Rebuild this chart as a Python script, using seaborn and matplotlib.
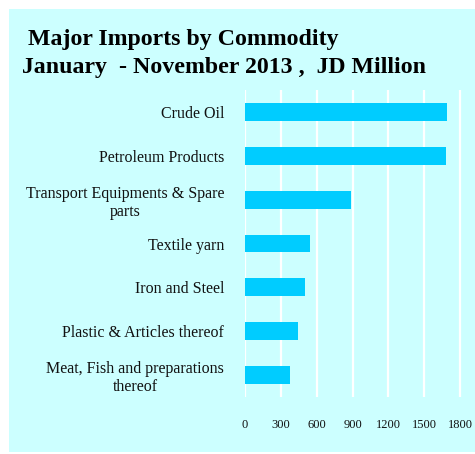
import matplotlib
matplotlib.use("Agg")
import matplotlib.pyplot as plt
from matplotlib.patches import Rectangle
import seaborn as sns
import pandas as pd

commodities = [
    "Crude Oil",
    "Petroleum Products",
    "Transport Equipments & Spare\nparts",
    "Textile yarn",
    "Iron and Steel",
    "Plastic & Articles thereof",
    "Meat, Fish and preparations\nthereof",
]
values_jd_million = [1693, 1685, 888, 545, 503, 444, 377]
x_ticks = [0, 300, 600, 900, 1200, 1500, 1800]

df = pd.DataFrame({"commodity": commodities, "value": values_jd_million})

sns.set_theme(style="white")
plt.rcParams["font.family"] = ["Liberation Serif", "DejaVu Serif"]

W, H = 475, 454
fig = plt.figure(figsize=(W / 100, H / 100), dpi=100)
fig.patch.set_facecolor("white")

# light cyan panel behind everything
fig.patches.append(Rectangle((9 / W, 2 / H), 1 - 9 / W, (452 - 9) / H,
                             transform=fig.transFigure, facecolor="#CCFFFF",
                             edgecolor="none", zorder=-5))

left, right = 245 / W, (245 + 215 * 1830 / 1800) / W
top, bottom = 1 - 90 / H, 1 - 397 / H
ax = fig.add_axes([left, bottom, right - left, top - bottom])
ax.set_zorder(2)
ax.set_facecolor("none")

sns.barplot(data=df, x="value", y="commodity", orient="h", color="#00CCFF",
            width=0.41, saturation=1, linewidth=0, ax=ax, zorder=3)

ax.set_xlim(0, 1830)
ax.set_ylim(6.5, -0.5)
ax.set_xticks(x_ticks)
ax.set_xticklabels([str(t) for t in x_ticks], fontsize=9)
ax.xaxis.grid(True, color="white", linewidth=1.6, zorder=1)
ax.set_axisbelow(True)
ax.yaxis.grid(False)
for s in ax.spines.values():
    s.set_visible(False)
ax.tick_params(axis="x", length=0, pad=16, colors="#111111")
ax.tick_params(axis="y", length=0, pad=15, colors="#111111")
for lab in ax.get_yticklabels():
    lab.set_fontsize(11.5)
    lab.set_multialignment("center")
ax.set_xlabel("")
ax.set_ylabel("")

fig.text(22 / W, 1 - 40 / H, " Major Imports by Commodity", fontsize=17.2,
         fontweight="bold", ha="left", va="center", color="black", zorder=3)
fig.text(22 / W, 1 - 68 / H, "January  - November 2013 ,  JD Million",
         fontsize=17.2, fontweight="bold", ha="left", va="center", color="black",
         zorder=3)

fig.savefig("out.png", dpi=100, facecolor=fig.get_facecolor())
